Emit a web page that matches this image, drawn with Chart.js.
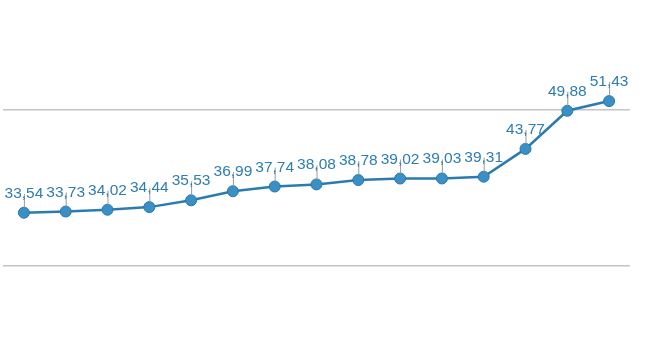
<!DOCTYPE html>
<html>
<head>
<meta charset="utf-8">
<script src="https://cdn.jsdelivr.net/npm/chart.js@4"></script>
<style>
  html, body { margin: 0; padding: 0; background: #fff; }
  #wrap { width: 650px; height: 360px; position: relative; }
</style>
</head>
<body>
<div id="wrap"><canvas id="chart"></canvas></div>
<script>
// data
const categories = ['1', '2', '3', '4', '5', '6', '7', '8', '9', '10', '11', '12', '13', '14', '15'];
const values = [33.54, 33.73, 34.02, 34.44, 35.53, 36.99, 37.74, 38.08, 38.78, 39.02, 39.03, 39.31, 43.77, 49.88, 51.43];
const yTicks = [25, 50];

// value labels with small leader line above each point
const pointLabels = {
    id: 'pointLabels',
    afterDatasetsDraw(chart) {
        const ctx = chart.ctx;
        const meta = chart.getDatasetMeta(0);
        ctx.save();
        meta.data.forEach((pt, i) => {
            const x = pt.x, y = pt.y;
            ctx.strokeStyle = '#9a9a9a';
            ctx.lineWidth = 1;
            ctx.beginPath();
            ctx.moveTo(x + 0.5, y - 5);
            ctx.lineTo(x + 0.5, y - 19);
            ctx.stroke();
            ctx.fillStyle = '#2e7db2';
            ctx.font = '15.5px "Liberation Sans", Arial, sans-serif';
            ctx.textAlign = 'center';
            ctx.textBaseline = 'alphabetic';
            ctx.fillText(values[i].toFixed(2).replace('.', ','), x, y - 15);
        });
        ctx.restore();
    }
};

new Chart(document.getElementById('chart'), {
    type: 'line',
    data: {
        labels: categories,
        datasets: [{
            data: values,
            borderColor: '#2b7bb0',
            borderWidth: 2.5,
            tension: 0,
            pointRadius: 5.5,
            pointBackgroundColor: '#3a8fc4',
            pointBorderColor: '#2a78ab',
            pointBorderWidth: 1
        }]
    },
    options: {
        responsive: true,
        maintainAspectRatio: false,
        animation: false,
        layout: { autoPadding: false, padding: { left: 3, right: 20, top: 0, bottom: 0 } },
        plugins: { legend: { display: false }, tooltip: { enabled: false } },
        scales: {
            x: { display: false, offset: true },
            y: {
                min: 9.94, max: 67.63,
                afterBuildTicks: axis => { axis.ticks = yTicks.map(v => ({ value: v })); },
                afterFit: axis => { axis.width = 0; },
                ticks: { display: false },
                border: { display: false },
                grid: { color: '#c4c4c4', lineWidth: 1.5, drawTicks: false, tickLength: 0 }
            }
        }
    },
    plugins: [pointLabels]
});
</script>
</body>
</html>
